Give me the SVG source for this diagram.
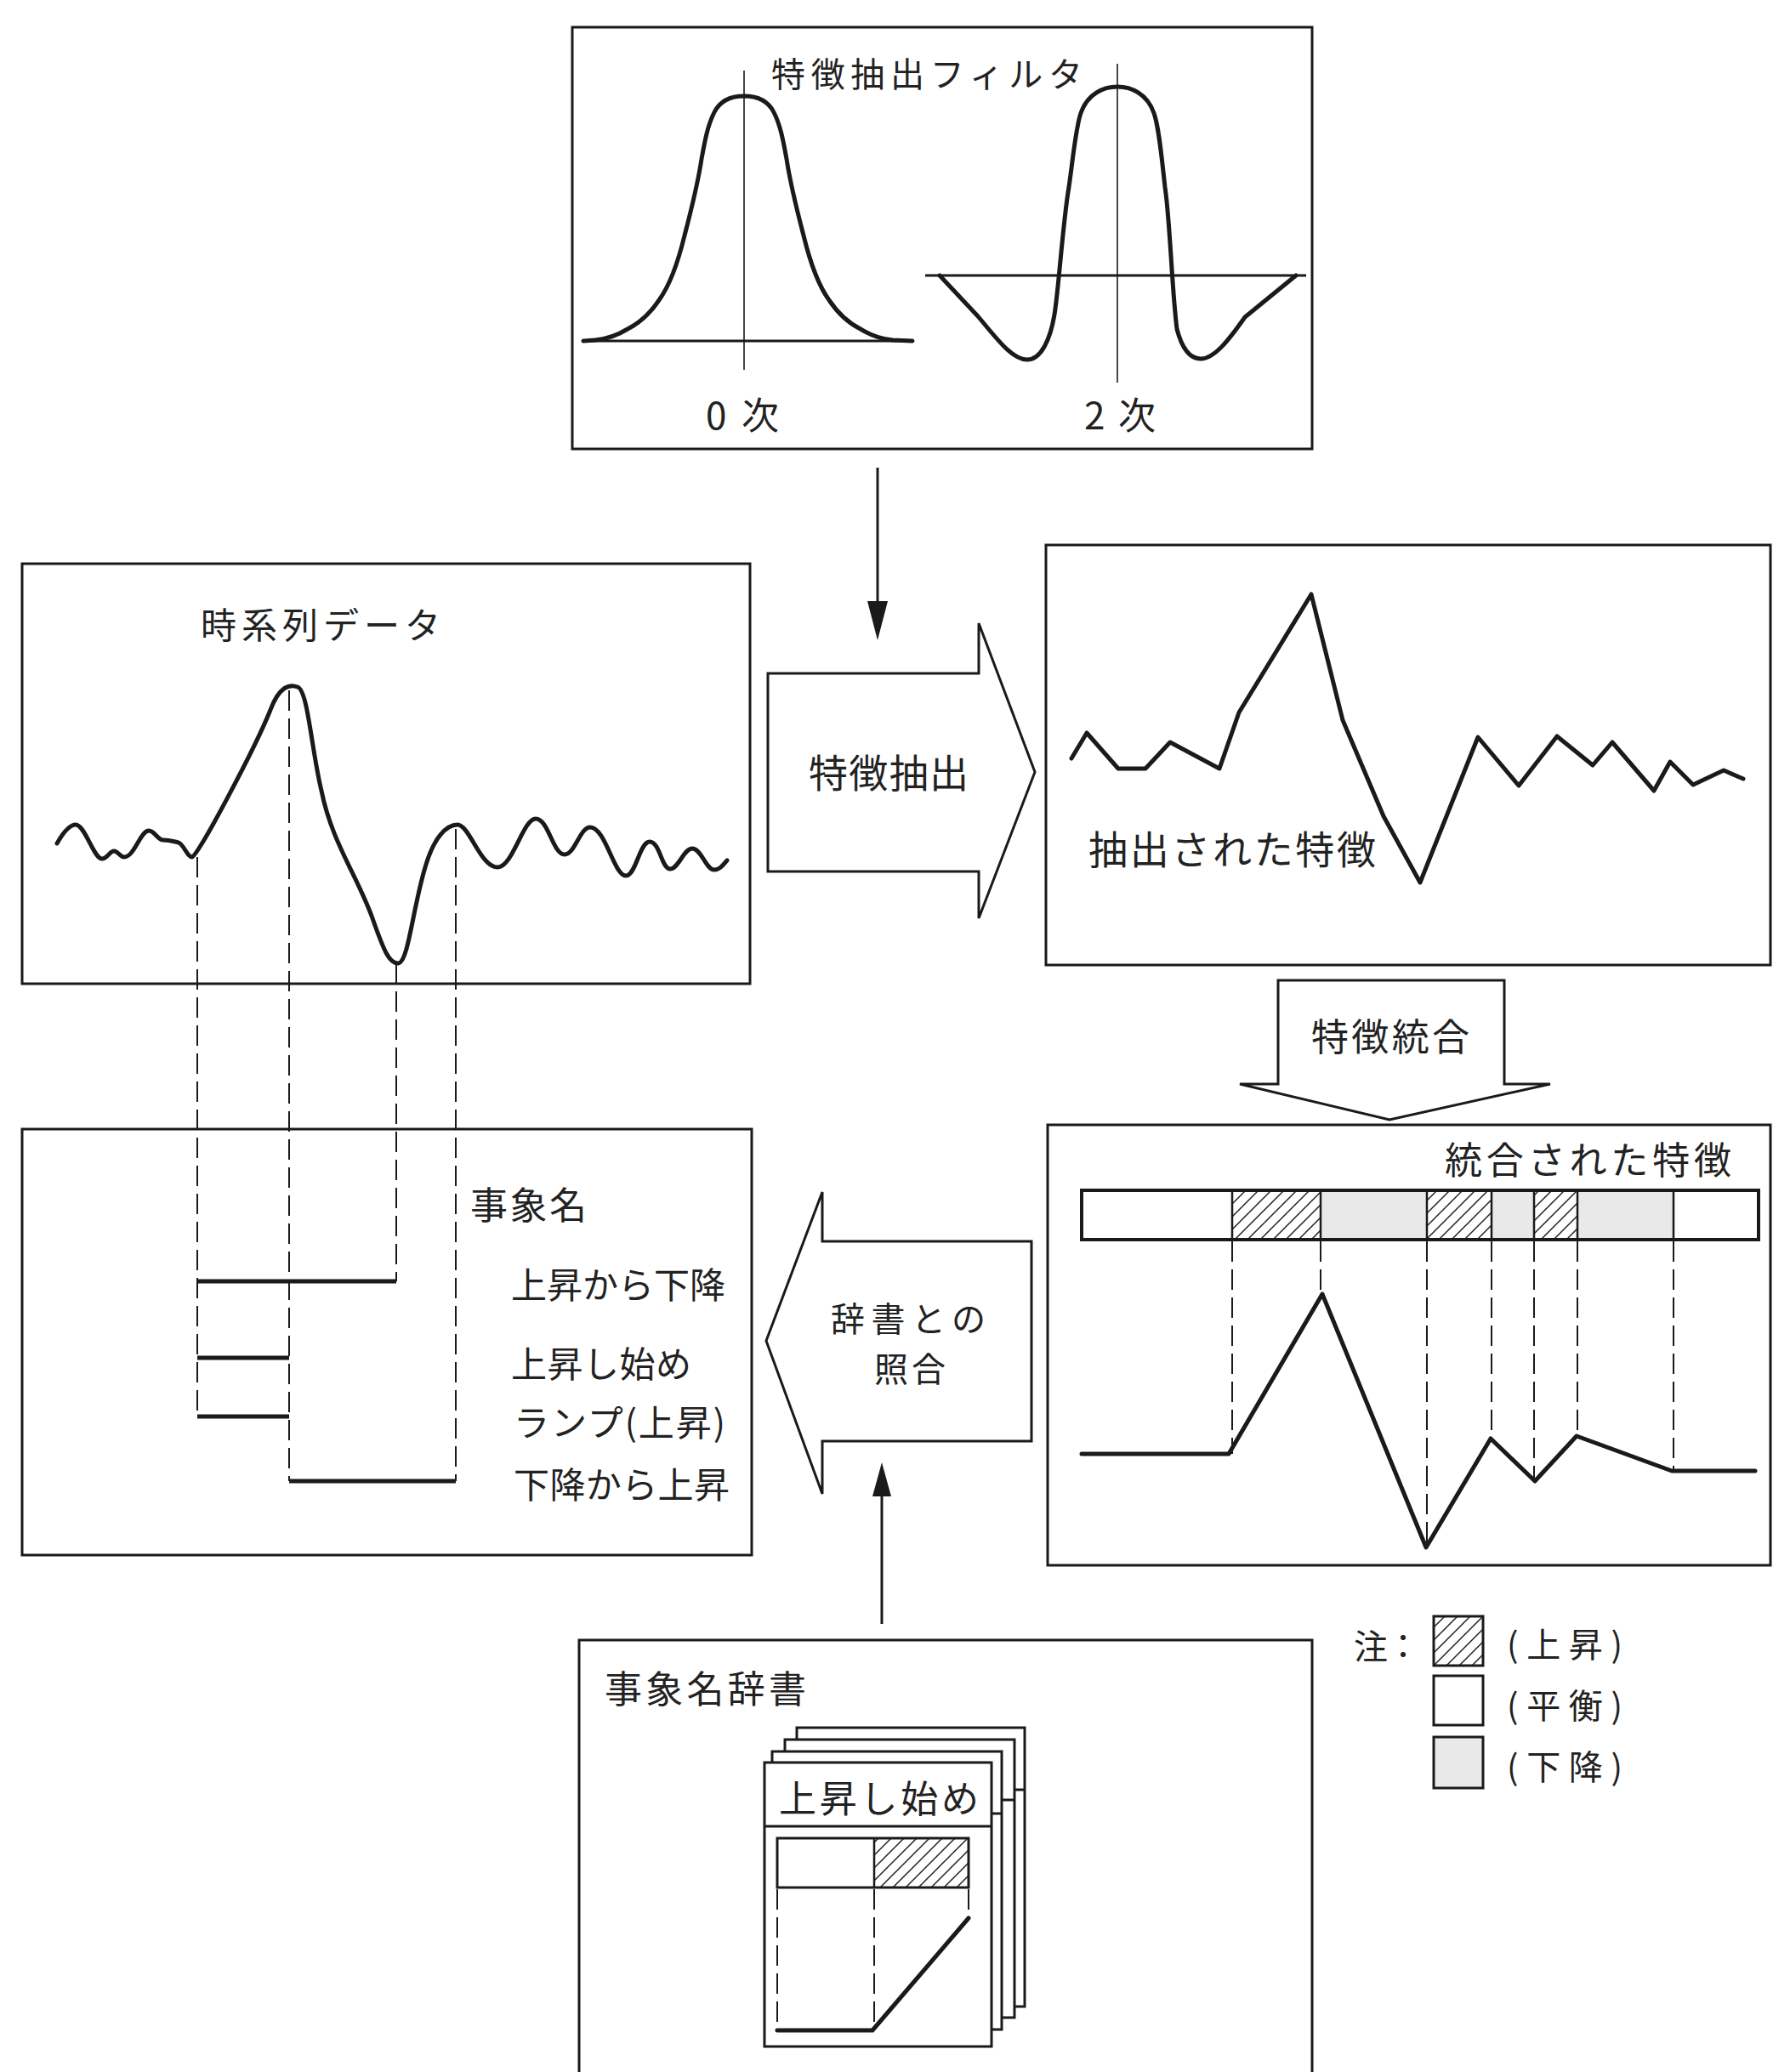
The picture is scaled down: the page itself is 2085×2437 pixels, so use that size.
<svg xmlns="http://www.w3.org/2000/svg" width="2085" height="2437" viewBox="0 0 2085 2437">
<defs>
<pattern id="hatch" patternUnits="userSpaceOnUse" width="15" height="15">
<path d="M0,15 L15,0 M-4,4 L4,-4 M11,19 L19,11" stroke="#222" stroke-width="1.5"/>
</pattern>
<style>
.box{fill:none;stroke:#1a1a1a;stroke-width:3}
.wbox{fill:#fff;stroke:#1a1a1a;stroke-width:3}
.thin{fill:none;stroke:#1a1a1a;stroke-width:1.6}
.curve{fill:none;stroke:#1a1a1a;stroke-width:5;stroke-linejoin:round;stroke-linecap:round}
.dash{fill:none;stroke:#1a1a1a;stroke-width:2;stroke-dasharray:24 9}
.bar{fill:none;stroke:#1a1a1a;stroke-width:5}
.t{font-family:"Noto Sans CJK JP","Noto Sans CJK SC",sans-serif;fill:#222}
.gray{fill:#e9e9e9}
.hat{fill:url(#hatch)}
</style>
</defs>
<rect width="2085" height="2437" fill="#fff"/>

<g id="filter">
<rect class="box" x="673" y="32" width="870" height="496"/>
<text class="t" x="907" y="102" font-size="40" textLength="366" lengthAdjust="spacing">特徴抽出フィルタ</text>
<line class="thin" x1="875" y1="83" x2="875" y2="435"/>
<line class="box" x1="686" y1="401" x2="1073" y2="401"/>
<path class="curve" d="M686,401 L700,400 C712,399 725,395 738,387 C752,380 765,368 775,353 C788,335 797,310 805,277 C812,250 820,220 825,187 C829,165 832,148 840,132 C847,118 860,113 875,113 C890,113 903,118 910,132 C918,148 921,165 925,187 C930,220 938,250 945,277 C953,310 962,335 975,353 C985,368 998,380 1012,387 C1025,395 1038,399 1050,400 L1073,401"/>
<text class="t" x="830" y="505" font-size="44" textLength="86" lengthAdjust="spacing">0 次</text>
<line class="thin" x1="1314" y1="75" x2="1314" y2="450"/>
<line class="box" x1="1088" y1="324" x2="1536" y2="324"/>
<path class="curve" d="M1105,324 L1150,372 C1172,398 1190,423 1208,423 C1224,423 1235,400 1240,370 C1245,340 1250,260 1257,220 C1262,185 1265,150 1271,133 C1279,110 1298,102 1314,102 C1330,102 1349,110 1357,133 C1363,150 1366,185 1370,220 C1376,260 1378,340 1384,387 C1390,410 1400,422 1412,422 C1428,422 1445,400 1464,373 L1524,324"/>
<text class="t" x="1275" y="505" font-size="44" textLength="84" lengthAdjust="spacing">2 次</text>
</g>

<g id="timeseries">
<rect class="box" x="26" y="663" width="856" height="494"/>
<text class="t" x="236" y="751" font-size="42" textLength="282" lengthAdjust="spacing">時系列データ</text>
<path class="curve" d="M67,992 C75,978 82,970 89,970 C100,970 110,1010 120,1010 C126,1010 129,1001 134,1001 C139,1001 141,1008 146,1008 C158,1008 165,977 175,977 C182,977 185,988 192,988 C200,988 205,990 210,991 C216,993 220,1008 226,1008 C232,1008 300,880 318,835 C328,808 340,804 350,808 C362,812 366,880 378,930 C390,990 420,1030 438,1080 C452,1120 458,1133 468,1133 C480,1133 485,1070 500,1020 C510,985 525,970 538,970 C552,970 565,1020 585,1020 C603,1020 615,963 630,963 C645,963 650,1005 664,1005 C676,1005 682,973 694,973 C712,973 722,1030 736,1030 C748,1030 752,990 764,990 C776,990 778,1022 788,1022 C798,1022 804,998 814,998 C825,998 830,1023 840,1023 C846,1023 850,1018 855,1012"/>
</g>

<g id="events">
<rect class="box" x="26" y="1328" width="858" height="501"/>
<line class="dash" x1="232" y1="1008" x2="232" y2="1666"/>
<line class="dash" x1="340" y1="812" x2="340" y2="1742"/>
<line class="dash" x1="466" y1="1133" x2="466" y2="1507"/>
<line class="dash" x1="536" y1="975" x2="536" y2="1742"/>
<line class="bar" x1="232" y1="1507" x2="466" y2="1507"/>
<line class="bar" x1="232" y1="1597" x2="340" y2="1597"/>
<line class="bar" x1="232" y1="1666" x2="340" y2="1666"/>
<line class="bar" x1="340" y1="1742" x2="536" y2="1742"/>
<text class="t" x="553" y="1434" font-size="44" textLength="137" lengthAdjust="spacing">事象名</text>
<text class="t" x="601" y="1527" font-size="42" textLength="252" lengthAdjust="spacing">上昇から下降</text>
<text class="t" x="601" y="1620" font-size="42" textLength="212" lengthAdjust="spacing">上昇し始め</text>
<text class="t" x="604" y="1689" font-size="42" textLength="249" lengthAdjust="spacing">ランプ(上昇)</text>
<text class="t" x="604" y="1762" font-size="42" textLength="254" lengthAdjust="spacing">下降から上昇</text>
</g>

<g id="extracted">
<rect class="box" x="1230" y="641" width="852" height="494"/>
<polyline class="curve" points="1260,892 1278,862 1315,904 1347,904 1376,873 1434,904 1457,838 1542,699 1579,847 1627,960 1670,1038 1738,867 1786,924 1831,866 1873,900 1896,873 1945,930 1964,896 1991,923 2027,906 2050,916"/>
<text class="t" x="1280" y="1016" font-size="46" textLength="338" lengthAdjust="spacing">抽出された特徴</text>
</g>

<g id="integrated">
<rect class="box" x="1232" y="1323" width="850" height="518"/>
<text class="t" x="1699" y="1381" font-size="44" textLength="337" lengthAdjust="spacing">統合された特徴</text>
<rect class="hat" x="1449" y="1400" width="104" height="58"/>
<rect class="gray" x="1553" y="1400" width="125" height="58"/>
<rect class="hat" x="1678" y="1400" width="76" height="58"/>
<rect class="gray" x="1754" y="1400" width="50" height="58"/>
<rect class="hat" x="1804" y="1400" width="51" height="58"/>
<rect class="gray" x="1855" y="1400" width="113" height="58"/>
<rect x="1272" y="1400" width="796" height="58" fill="none" stroke="#1a1a1a" stroke-width="4"/>
<g stroke="#1a1a1a" stroke-width="2.5">
<line x1="1449" y1="1400" x2="1449" y2="1458"/>
<line x1="1553" y1="1400" x2="1553" y2="1458"/>
<line x1="1678" y1="1400" x2="1678" y2="1458"/>
<line x1="1754" y1="1400" x2="1754" y2="1458"/>
<line x1="1804" y1="1400" x2="1804" y2="1458"/>
<line x1="1855" y1="1400" x2="1855" y2="1458"/>
<line x1="1968" y1="1400" x2="1968" y2="1458"/>
</g>
<line class="dash" x1="1449" y1="1460" x2="1449" y2="1710"/>
<line class="dash" x1="1553" y1="1460" x2="1553" y2="1523"/>
<line class="dash" x1="1678" y1="1460" x2="1678" y2="1820"/>
<line class="dash" x1="1754" y1="1460" x2="1754" y2="1692"/>
<line class="dash" x1="1804" y1="1460" x2="1804" y2="1742"/>
<line class="dash" x1="1855" y1="1460" x2="1855" y2="1689"/>
<line class="dash" x1="1968" y1="1460" x2="1968" y2="1730"/>
<polyline class="curve" points="1272,1710 1445,1710 1555,1522 1677,1820 1753,1692 1805,1742 1854,1689 1966,1730 2064,1730"/>
</g>

<g id="legend">
<text class="t" x="1592" y="1951" font-size="40" textLength="78" lengthAdjust="spacing">注：</text>
<rect class="hat" x="1686" y="1901" width="58" height="58"/>
<rect class="box" x="1686" y="1901" width="58" height="58"/>
<rect class="box" x="1686" y="1971" width="58" height="58"/>
<rect class="gray" x="1686" y="2043" width="58" height="60"/>
<rect class="box" x="1686" y="2043" width="58" height="60"/>
<text class="t" x="1772" y="1949" font-size="40" textLength="136" lengthAdjust="spacing">(上昇)</text>
<text class="t" x="1772" y="2021" font-size="40" textLength="136" lengthAdjust="spacing">(平衡)</text>
<text class="t" x="1772" y="2093" font-size="40" textLength="136" lengthAdjust="spacing">(下降)</text>
</g>

<g id="dictionary">
<path class="box" d="M681,2445 L681,1929 L1543,1929 L1543,2445"/>
<text class="t" x="711" y="2003" font-size="44" textLength="237" lengthAdjust="spacing">事象名辞書</text>
<rect class="wbox" x="937" y="2032" width="268" height="328"/>
<rect class="wbox" x="923" y="2046" width="270" height="327"/>
<rect class="wbox" x="908" y="2060" width="270" height="327"/>
<rect class="wbox" x="899" y="2073" width="267" height="334"/>
<g stroke="#1a1a1a" stroke-width="3">
<line x1="1193" y1="2105" x2="1205" y2="2105"/>
<line x1="1178" y1="2117" x2="1193" y2="2117"/>
<line x1="1166" y1="2133" x2="1178" y2="2133"/>
<line x1="899" y1="2148" x2="1166" y2="2148"/>
</g>
<text class="t" x="916" y="2132" font-size="44" textLength="235" lengthAdjust="spacing">上昇し始め</text>
<rect class="hat" x="1028" y="2162" width="111" height="58"/>
<rect x="914" y="2162" width="225" height="58" fill="none" stroke="#1a1a1a" stroke-width="3"/>
<line x1="1028" y1="2162" x2="1028" y2="2220" stroke="#1a1a1a" stroke-width="2.5"/>
<line class="dash" x1="914" y1="2222" x2="914" y2="2386"/>
<line class="dash" x1="1028" y1="2222" x2="1028" y2="2386"/>
<line class="dash" x1="1139" y1="2222" x2="1139" y2="2254"/>
<polyline class="curve" points="914,2388 1026,2388 1139,2256"/>
</g>

<g id="connectors">
<g id="arrow-filter">
<line x1="1032" y1="550" x2="1032" y2="712" stroke="#1a1a1a" stroke-width="3"/>
<polygon points="1020,707 1044,707 1032,753" fill="#1a1a1a"/>
</g>
<g id="arrow-extract">
<polygon class="wbox" points="903,792 1151,792 1151,733 1217,908 1151,1080 1151,1025 903,1025"/>
<text class="t" x="951" y="926" font-size="46" textLength="188" lengthAdjust="spacing">特徴抽出</text>
</g>
<g id="arrow-integrate">
<polygon class="wbox" points="1503,1153 1769,1153 1769,1275 1823,1275 1634,1317 1458,1275 1503,1275"/>
<text class="t" x="1542" y="1236" font-size="44" textLength="186" lengthAdjust="spacing">特徴統合</text>
</g>
<g id="arrow-match">
<polygon class="wbox" points="1213,1460 967,1460 967,1402 901,1577 967,1757 967,1695 1213,1695"/>
<text class="t" x="977" y="1566" font-size="40" textLength="182" lengthAdjust="spacing">辞書との</text>
<text class="t" x="1028" y="1625" font-size="40" textLength="84" lengthAdjust="spacing">照合</text>
</g>
<g id="arrow-dict">
<line x1="1037" y1="1910" x2="1037" y2="1755" stroke="#1a1a1a" stroke-width="3"/>
<polygon points="1026,1760 1048,1760 1037,1720" fill="#1a1a1a"/>
</g>
</g>
</svg>
